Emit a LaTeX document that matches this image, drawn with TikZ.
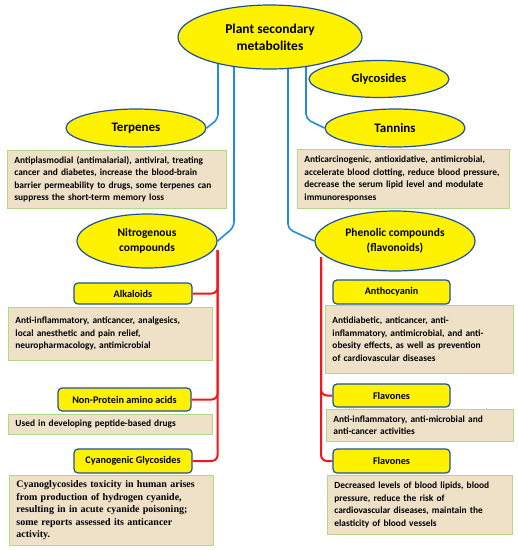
\documentclass[tikz,border=0pt]{standalone}
\usepackage{fontspec}
\setmainfont{Carlito}
\newfontfamily\serifnote{Liberation Serif}
\usetikzlibrary{shapes.geometric,calc,backgrounds}
\definecolor{blueline}{RGB}{35,140,215}
\definecolor{rimblue}{RGB}{30,80,160}
\definecolor{parch}{RGB}{239,225,200}
\definecolor{rimgreen}{RGB}{175,218,140}
\definecolor{redline}{RGB}{250,20,25}
\tikzset{
  oval/.style={ellipse, draw=rimblue, fill=yellow, line width=1.2pt, align=center,
    inner sep=0pt, font=\bfseries\fontsize{13}{17}\selectfont},
  small oval/.style={oval, font=\bfseries\fontsize{11.5}{15.5}\selectfont},
  tag/.style={rectangle, rounded corners=4pt, draw=rimblue, fill=yellow, line width=1.2pt,
    inner sep=0pt, font=\bfseries\fontsize{10.2}{12}\selectfont},
  note/.style={rectangle, draw=rimgreen, fill=parch, line width=0.9pt, anchor=north west,
    align=left, inner xsep=7pt, inner ysep=3pt, font=\bfseries\fontsize{9.4}{12.5}\selectfont},
  bluewire/.style={draw=blueline, line width=1.6pt, rounded corners=5pt},
  redwire/.style={draw=redline, line width=2pt, rounded corners=6pt}
}
\begin{document}
\begin{tikzpicture}[x=1pt, y=-1pt]
\useasboundingbox (0,0) rectangle (518,550);
% Top level ovals
\node[oval, minimum width=184, minimum height=64, font=\bfseries\fontsize{13.5}{17}\selectfont] (plant) at (270,37) {Plant secondary\\metabolites};
\node[oval, minimum width=140, minimum height=37, font=\bfseries\fontsize{12.5}{15}\selectfont] (glyco) at (379,79) {Glycosides};
\node[oval, minimum width=140, minimum height=38] (terp) at (136,128) {Terpenes};
\node[oval, minimum width=140, minimum height=38] (tann) at (395,128) {Tannins};
\node[small oval, minimum width=140, minimum height=54] (nitro) at (147,241) {Nitrogenous\\compounds};
\node[small oval, minimum width=160, minimum height=60] (phen) at (395,241) {Phenolic compounds\\(flavonoids)};

% Notes under the ovals
\node[note, minimum width=219, minimum height=58, text width=205] (terpnote) at (7,150)
  {Antiplasmodial (antimalarial), antiviral, treating\\cancer and diabetes, increase the blood-brain\\barrier permeability to drugs, some terpenes can\\suppress the short-term memory loss};
\node[note, minimum width=212, minimum height=59, text width=198] (tannnote) at (297,149)
  {Anticarcinogenic, antioxidative, antimicrobial,\\accelerate blood clotting, reduce blood pressure,\\decrease the serum lipid level and modulate\\immunoresponses};

% Nitrogenous compounds branch
\node[tag, minimum width=118, minimum height=21] (alk) at (133,293.5) {Alkaloids};
\node[note, minimum width=204, minimum height=53, text width=190] (alknote) at (8,307)
  {Anti-inflammatory, anticancer, analgesics,\\local anesthetic and pain relief,\\neuropharmacology, antimicrobial};
\node[tag, minimum width=133, minimum height=23] (nonp) at (124.5,399.5) {Non-Protein amino acids};
\node[note, minimum width=204, minimum height=20, text width=190] (nonpnote) at (8,414)
  {Used in developing peptide-based drugs};
\node[tag, minimum width=118, minimum height=24] (cyan) at (133,461) {Cyanogenic Glycosides};
\node[note, minimum width=204, minimum height=70, text width=190,
  font=\serifnote\bfseries\fontsize{10}{12.5}\selectfont] (cyannote) at (9,475)
  {Cyanoglycosides toxicity in human arises\\from production of hydrogen cyanide,\\resulting in in acute cyanide poisoning;\\some reports assessed its anticancer\\activity.};

% Phenolic compounds branch
\node[tag, minimum width=117, minimum height=24] (antho) at (391.5,292) {Anthocyanin};
\node[note, minimum width=188, minimum height=68, text width=174] (anthonote) at (325,305)
  {Antidiabetic, anticancer, anti-\\inflammatory, antimicrobial, and anti-\\obesity effects, as well as prevention\\of cardiovascular diseases};
\node[tag, minimum width=117, minimum height=23] (flaone) at (391.5,395.5) {Flavones};
\node[note, minimum width=187, minimum height=32, text width=173] (flaonenote) at (326,409)
  {Anti-inflammatory, anti-microbial and\\anti-cancer activities};
\node[tag, minimum width=117, minimum height=24] (flatwo) at (391.5,461) {Flavones};
\node[note, minimum width=185, minimum height=59, text width=171] (flatwonote) at (327,475)
  {Decreased levels of blood lipids, blood\\pressure, reduce the risk of\\cardiovascular diseases, maintain the\\elasticity of blood vessels};

% Connectors, kept behind the shapes
\begin{scope}[on background layer]
\coordinate (pterp) at ($(plant.center)+(-52,0)$);
\coordinate (pnitro) at ($(plant.center)+(-36,0)$);
\coordinate (pphen) at ($(plant.center)+(18,0)$);
\coordinate (ptann) at ($(plant.center)+(36,0)$);
\draw[bluewire] (pterp) -- ++(0,82) -- (terp.east);
\draw[bluewire] (pnitro) -- ++(0,190) -- (nitro.east);
\draw[bluewire] (pphen) -- ++(0,192) -- (phen.west);
\draw[bluewire] (ptann) -- ++(0,82) -- (tann.west);
% red trunks
\coordinate (ntop) at ($(nitro.east)+(0,9)$);
\coordinate (ptop) at ($(phen.center)+(-74,16)$);
\draw[redwire] (ntop) |- (alk.east);
\draw[redwire] (ntop) |- (nonp.east);
\draw[redwire] (ntop) |- (cyan.east);
\draw[redwire] (ptop) |- (flaone.west);
\draw[redwire] (ptop) |- (flatwo.west);
\end{scope}
\end{tikzpicture}
\end{document}
